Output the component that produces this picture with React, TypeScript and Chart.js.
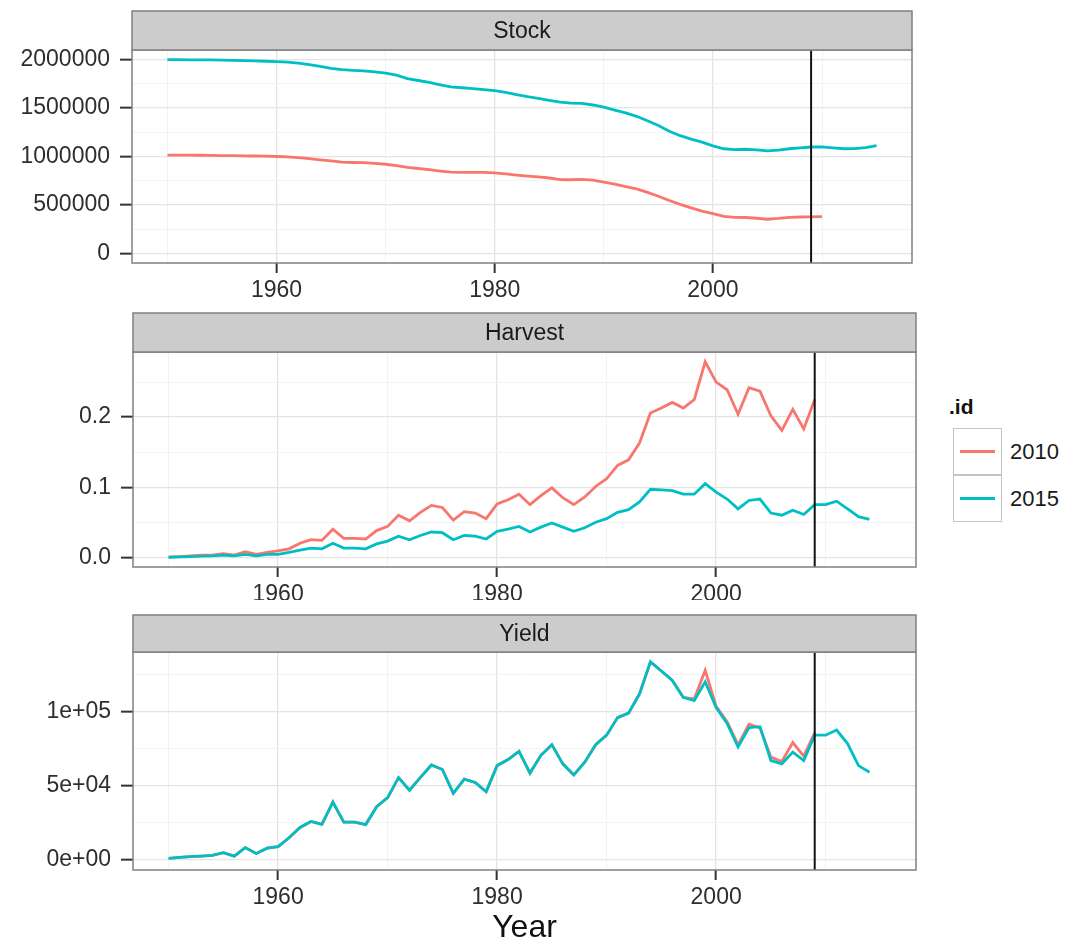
import React, { useEffect, useRef } from "react";
import { Chart, registerables } from "chart.js";

Chart.register(...registerables);

const FONT = '"Liberation Sans", Arial, Helvetica, sans-serif';
const COLOR_2010 = "#F8766D";
const COLOR_2015 = "#00BFC4";
const TICK_COLOR = "#2e2e2e";
const GRID_MAJOR = "#e4e4e4";
const GRID_MINOR = "#f3f3f3";
const BORDER = "#808080";

const seriesNames = ["2010", "2015"];
const legendTitle = ".id";
const xTitle = "Year";
const panelTitles = ["Stock", "Harvest", "Yield"];
const vlineYear = 2009;

const years = [
  1950, 1951, 1952, 1953, 1954, 1955, 1956, 1957, 1958, 1959,
  1960, 1961, 1962, 1963, 1964, 1965, 1966, 1967, 1968, 1969,
  1970, 1971, 1972, 1973, 1974, 1975, 1976, 1977, 1978, 1979,
  1980, 1981, 1982, 1983, 1984, 1985, 1986, 1987, 1988, 1989,
  1990, 1991, 1992, 1993, 1994, 1995, 1996, 1997, 1998, 1999,
  2000, 2001, 2002, 2003, 2004, 2005, 2006, 2007, 2008, 2009,
  2010, 2011, 2012, 2013, 2014, 2015,
];

const xMajorTicks = [1960, 1980, 2000];
const xMinorTicks = [1950, 1970, 1990, 2010];

// Stock (1950-2010 for run "2010", 1950-2015 for run "2015")
const stock2010 = [
  1015000, 1015000, 1014000, 1013000, 1012000, 1010000, 1009000, 1007000, 1005000, 1003000,
  1000000, 996000, 988000, 978000, 966000, 955000, 942000, 938000, 936000, 930000,
  920000, 905000, 888000, 876000, 864000, 850000, 838000, 837000, 836000, 835000,
  830000, 820000, 808000, 798000, 790000, 778000, 762000, 760000, 763000, 755000,
  735000, 715000, 690000, 665000, 630000, 590000, 545000, 505000, 470000, 436000,
  410000, 382000, 372000, 370000, 362000, 352000, 360000, 372000, 375000, 376000,
  378000,
];
const stock2015 = [
  2000000, 2000000, 1999000, 1998000, 1997000, 1995000, 1993000, 1990000, 1987000, 1984000,
  1980000, 1975000, 1964000, 1948000, 1930000, 1910000, 1897000, 1890000, 1884000, 1875000,
  1860000, 1840000, 1805000, 1785000, 1765000, 1740000, 1718000, 1710000, 1702000, 1690000,
  1680000, 1662000, 1640000, 1618000, 1600000, 1580000, 1562000, 1552000, 1548000, 1532000,
  1510000, 1480000, 1450000, 1415000, 1370000, 1320000, 1260000, 1215000, 1180000, 1148000,
  1110000, 1080000, 1072000, 1075000, 1068000, 1058000, 1065000, 1080000, 1090000, 1098000,
  1100000, 1090000, 1080000, 1082000, 1092000, 1112000,
];

// Harvest (1950-2009 / 1950-2014)
const harvest2010 = [
  0, 0.001, 0.002, 0.003, 0.003, 0.005, 0.003, 0.008, 0.004, 0.007,
  0.009, 0.012, 0.02, 0.025, 0.024, 0.04, 0.027, 0.027, 0.026, 0.038,
  0.044, 0.06, 0.052, 0.064, 0.074, 0.071, 0.053, 0.065, 0.063, 0.055,
  0.076, 0.082, 0.09, 0.075, 0.088, 0.099, 0.085, 0.075, 0.086, 0.101,
  0.112, 0.131, 0.139, 0.163, 0.206, 0.213, 0.221, 0.213, 0.225, 0.279,
  0.25, 0.239, 0.204, 0.242, 0.237, 0.202, 0.181, 0.211, 0.183, 0.225,
];
const harvest2015 = [
  0, 0.0005, 0.001, 0.0015, 0.002, 0.003, 0.002, 0.004, 0.002, 0.004,
  0.004, 0.007, 0.01, 0.013, 0.012, 0.02, 0.013, 0.013, 0.012, 0.019,
  0.023, 0.03, 0.025, 0.031, 0.036, 0.035, 0.025, 0.031, 0.03, 0.026,
  0.037, 0.04, 0.044, 0.036, 0.043, 0.049, 0.043, 0.037, 0.042, 0.05,
  0.055, 0.064, 0.068, 0.079, 0.097, 0.096, 0.095, 0.09, 0.09, 0.105,
  0.093, 0.083, 0.069, 0.081, 0.083, 0.063, 0.06, 0.067, 0.061, 0.075,
  0.075, 0.08, 0.069, 0.058, 0.054,
];

// Yield (1950-2009 / 1950-2014)
const yield2010 = [
  1100, 1800, 2300, 2700, 3200, 5000, 2700, 8400, 4500, 8000,
  9100, 15000, 22000, 26000, 24000, 39000, 25500, 25500, 23900, 35900,
  42000, 55500, 47000, 55700, 64000, 61000, 45000, 54500, 52300, 46000,
  63600, 67700, 73200, 58600, 70500, 77700, 64800, 57300, 65900, 77700,
  84100, 95900, 98900, 111800, 133400, 127300, 120900, 109500, 108500, 127700,
  103500, 93200, 77500, 91400, 89000, 69300, 66400, 79100, 70000, 85700,
];
const yield2015 = [
  1100, 1800, 2300, 2700, 3200, 5000, 2700, 8400, 4500, 8000,
  9100, 15000, 22000, 26000, 24000, 39000, 25500, 25500, 23900, 35900,
  42000, 55500, 47000, 55700, 64000, 61000, 45000, 54500, 52300, 46000,
  63600, 67700, 73200, 58600, 70500, 77700, 64800, 57300, 65900, 77700,
  84100, 95900, 98900, 111800, 133400, 127300, 120900, 109500, 107300, 120000,
  102700, 92000, 76100, 89100, 89800, 67000, 64800, 72700, 67000, 84100,
  84100, 87500, 78400, 63600, 59100,
];

const stockTicks = [0, 500000, 1000000, 1500000, 2000000];
const stockTickLabels = ["0", "500000", "1000000", "1500000", "2000000"];
const stockMinor = [250000, 750000, 1250000, 1750000];
const harvestTicks = [0, 0.1, 0.2];
const harvestTickLabels = ["0.0", "0.1", "0.2"];
const harvestMinor = [0.05, 0.15, 0.25];
const yieldTicks = [0, 50000, 100000];
const yieldTickLabels = ["0e+00", "5e+04", "1e+05"];
const yieldMinor = [25000, 75000, 125000];

const CANVAS_W = 930;

type PanelSpec = {
  title: string;
  top: number;
  height: number;
  padTop: number;
  padRight: number;
  yWidth: number;
  xHeight: number;
  stripH: number;
  s2010: number[];
  s2015: number[];
  yMin: number;
  yMax: number;
  yTicks: number[];
  yLabels: string[];
  yMinor: number[];
  showXTitle: boolean;
};

const near = (a: number, b: number) => Math.abs(a - b) < 1e-9 * Math.max(1, Math.abs(b));

function toXY(vals: number[]) {
  return vals.map((v, i) => ({ x: years[i], y: v }));
}

function Panel({ spec }: { spec: PanelSpec }) {
  const ref = useRef<HTMLCanvasElement>(null);
  useEffect(() => {
    const canvas = ref.current;
    if (!canvas) return;
    const xAll = [...xMinorTicks, ...xMajorTicks].sort((a, b) => a - b);
    const yAll = [...spec.yTicks, ...spec.yMinor].sort((a, b) => a - b);
    const isXMajor = (v: number) => xMajorTicks.some((m) => near(m, v));
    const isYMajor = (v: number) => spec.yTicks.some((m) => near(m, v));

    const panelPlugin = {
      id: "panelDecor",
      afterDatasetsDraw(chart: any) {
        const { ctx, chartArea: a, scales } = chart;
        const w = a.right - a.left;
        ctx.save();
        // vertical reference line
        const xv = scales.x.getPixelForValue(vlineYear);
        ctx.strokeStyle = "#111111";
        ctx.lineWidth = 2;
        ctx.beginPath();
        ctx.moveTo(xv, a.top);
        ctx.lineTo(xv, a.bottom);
        ctx.stroke();
        // panel border
        ctx.strokeStyle = BORDER;
        ctx.lineWidth = 1.5;
        ctx.strokeRect(a.left, a.top, w, a.bottom - a.top);
        // strip
        ctx.fillStyle = "#cccccc";
        ctx.fillRect(a.left, a.top - spec.stripH, w, spec.stripH);
        ctx.strokeRect(a.left, a.top - spec.stripH, w, spec.stripH);
        ctx.fillStyle = "#1a1a1a";
        ctx.font = `23px ${FONT}`;
        ctx.textAlign = "center";
        ctx.textBaseline = "middle";
        ctx.fillText(spec.title, (a.left + a.right) / 2, a.top - spec.stripH / 2 + 1);
        ctx.restore();
      },
    };

    const chart = new Chart(canvas, {
      type: "line",
      data: {
        datasets: [
          {
            label: seriesNames[0],
            data: toXY(spec.s2010),
            borderColor: COLOR_2010,
            backgroundColor: COLOR_2010,
            borderWidth: 2.8,
            pointRadius: 0,
            tension: 0,
            fill: false,
            order: 2,
          },
          {
            label: seriesNames[1],
            data: toXY(spec.s2015),
            borderColor: COLOR_2015,
            backgroundColor: COLOR_2015,
            borderWidth: 2.8,
            pointRadius: 0,
            tension: 0,
            fill: false,
            order: 1,
          },
        ],
      },
      options: {
        animation: false,
        responsive: false,
        devicePixelRatio: 1,
        layout: { padding: { top: spec.padTop, right: spec.padRight, left: 0, bottom: 0 } },
        plugins: {
          legend: { display: false },
          tooltip: { enabled: false },
          title: { display: false },
        },
        scales: {
          x: {
            type: "linear",
            min: 1946.75,
            max: 2018.25,
            afterBuildTicks: (s: any) => {
              s.ticks = xAll.map((v) => ({ value: v }));
            },
            afterFit: (s: any) => {
              s.height = spec.xHeight;
            },
            ticks: {
              autoSkip: false,
              maxRotation: 0,
              minRotation: 0,
              padding: 4,
              color: TICK_COLOR,
              font: { family: FONT, size: 23 },
              callback: (v: any) => (isXMajor(Number(v)) ? String(v) : ""),
            },
            grid: {
              color: (c: any) => (c.tick && isXMajor(c.tick.value) ? GRID_MAJOR : GRID_MINOR),
              lineWidth: (c: any) => (c.tick && isXMajor(c.tick.value) ? 1.3 : 1),
              tickColor: (c: any) => (c.tick && isXMajor(c.tick.value) ? "#333333" : "rgba(0,0,0,0)"),
              tickLength: 10,
              tickWidth: 2,
            },
            border: { display: false },
            title: spec.showXTitle
              ? {
                  display: true,
                  text: xTitle,
                  color: "#111111",
                  font: { family: FONT, size: 32 },
                  padding: { top: 0, bottom: 1 },
                }
              : { display: false },
          },
          y: {
            type: "linear",
            min: spec.yMin,
            max: spec.yMax,
            afterBuildTicks: (s: any) => {
              s.ticks = yAll.map((v) => ({ value: v }));
            },
            afterFit: (s: any) => {
              s.width = spec.yWidth;
            },
            ticks: {
              autoSkip: false,
              padding: 10,
              color: TICK_COLOR,
              font: { family: FONT, size: 23 },
              callback: (v: any) => {
                const i = spec.yTicks.findIndex((m) => near(m, Number(v)));
                return i >= 0 ? spec.yLabels[i] : "";
              },
            },
            grid: {
              color: (c: any) => (c.tick && isYMajor(c.tick.value) ? GRID_MAJOR : GRID_MINOR),
              lineWidth: (c: any) => (c.tick && isYMajor(c.tick.value) ? 1.3 : 1),
              tickColor: (c: any) => (c.tick && isYMajor(c.tick.value) ? "#333333" : "rgba(0,0,0,0)"),
              tickLength: 12,
              tickWidth: 2,
            },
            border: { display: false },
          },
        },
      } as any,
      plugins: [panelPlugin],
    });
    return () => chart.destroy();
  }, [spec]);
  return (
    <canvas
      ref={ref}
      width={CANVAS_W}
      height={spec.height}
      style={{ position: "absolute", left: 0, top: spec.top, width: CANVAS_W, height: spec.height }}
    />
  );
}

const panels: PanelSpec[] = [
  {
    title: panelTitles[0],
    top: 0,
    height: 300,
    padTop: 50,
    padRight: 18,
    yWidth: 132,
    xHeight: 37,
    stripH: 39,
    s2010: stock2010,
    s2015: stock2015,
    yMin: -100000,
    yMax: 2100000,
    yTicks: stockTicks,
    yLabels: stockTickLabels,
    yMinor: stockMinor,
    showXTitle: false,
  },
  {
    title: panelTitles[1],
    top: 300,
    height: 300,
    padTop: 52,
    padRight: 14,
    yWidth: 133,
    xHeight: 33,
    stripH: 39,
    s2010: harvest2010,
    s2015: harvest2015,
    yMin: -0.01395,
    yMax: 0.29295,
    yTicks: harvestTicks,
    yLabels: harvestTickLabels,
    yMinor: harvestMinor,
    showXTitle: false,
  },
  {
    title: panelTitles[2],
    top: 600,
    height: 348,
    padTop: 52,
    padRight: 14,
    yWidth: 133,
    xHeight: 78,
    stripH: 37,
    s2010: yield2010,
    s2015: yield2015,
    yMin: -6670,
    yMax: 140070,
    yTicks: yieldTicks,
    yLabels: yieldTickLabels,
    yMinor: yieldMinor,
    showXTitle: true,
  },
];

function Legend() {
  const keyStyle = (top: number): React.CSSProperties => ({
    position: "absolute",
    left: 953,
    top,
    width: 49,
    height: 47,
    border: "1.5px solid #c4c4c4",
    background: "#ffffff",
    boxSizing: "border-box",
  });
  const lineStyle = (color: string): React.CSSProperties => ({
    position: "absolute",
    left: 6,
    right: 6,
    top: 21,
    height: 3,
    background: color,
  });
  const labelStyle = (top: number): React.CSSProperties => ({
    position: "absolute",
    left: 1010,
    top,
    fontFamily: FONT,
    fontSize: 22,
    color: "#1a1a1a",
    lineHeight: "26px",
  });
  return (
    <>
      <div
        style={{
          position: "absolute",
          left: 949,
          top: 394,
          fontFamily: FONT,
          fontSize: 21,
          fontWeight: "bold",
          color: "#111111",
          lineHeight: "26px",
        }}
      >
        {legendTitle}
      </div>
      <div style={keyStyle(428)}>
        <div style={lineStyle(COLOR_2010)} />
      </div>
      <div style={keyStyle(475)}>
        <div style={lineStyle(COLOR_2015)} />
      </div>
      <div style={labelStyle(439)}>{seriesNames[0]}</div>
      <div style={labelStyle(486)}>{seriesNames[1]}</div>
    </>
  );
}

export default function App() {
  return (
    <div
      style={{
        position: "absolute",
        left: 0,
        top: 0,
        width: 1075,
        height: 948,
        overflow: "hidden",
        background: "#ffffff",
      }}
    >
      {panels.map((p) => (
        <Panel key={p.title} spec={p} />
      ))}
      <Legend />
    </div>
  );
}
